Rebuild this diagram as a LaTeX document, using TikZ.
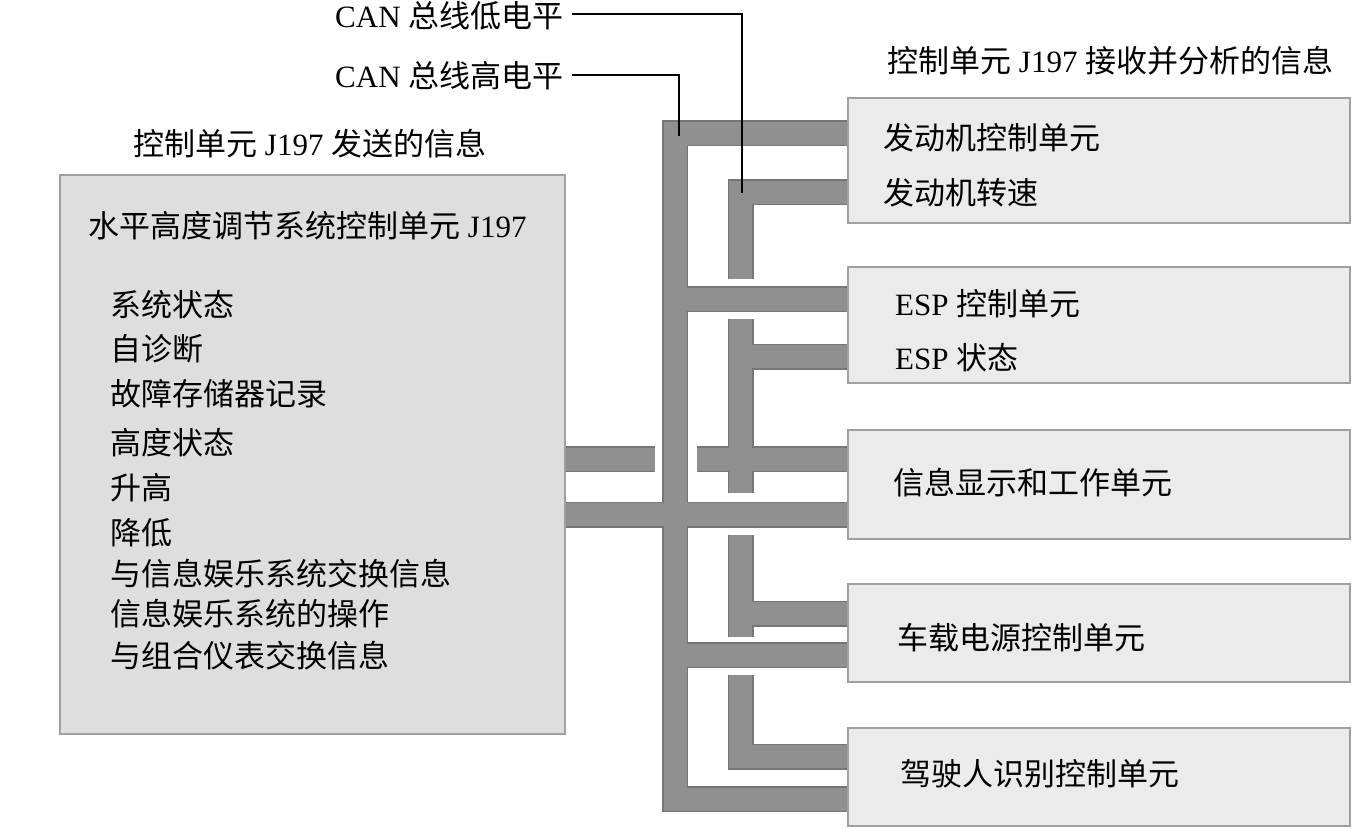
\documentclass[tikz,border=0pt]{standalone}
\usepackage{fontspec}
\setmainfont{Liberation Serif}
\newfontfamily\cjk{Noto Sans CJK SC}
\newcommand\C[1]{{\cjk #1}}
\definecolor{busgray}{HTML}{909090}
\definecolor{busedgegray}{HTML}{767676}
\definecolor{boxline}{HTML}{A0A0A0}
\definecolor{leftfill}{HTML}{DEDEDE}
\definecolor{rightfill}{HTML}{EBEBEB}
\tikzset{
  txt/.style={anchor=base west, inner sep=0pt, font=\fontsize{31}{36}\selectfont},
  rbox/.style={draw=boxline, line width=2.5pt, fill=rightfill, anchor=north west, minimum width=502pt, outer sep=0pt, inner sep=0pt},
  lbox/.style={draw=boxline, line width=2.5pt, fill=leftfill, anchor=north west, outer sep=0pt, inner sep=0pt},
  busedge/.style={draw=busedgegray, line width=26pt, line join=miter, line cap=butt},
  busfill/.style={draw=busgray, line width=23pt, line join=miter, line cap=butt},
  lead/.style={draw=black, line width=2pt}
}
\newcommand\buspaths[1]{%
  \draw[#1] (eng.west |- 0,133) -| (675,799) -- (drv.west |- 0,799);
  \draw[#1] (675,299) -- (esp.west |- 0,299);
  \draw[#1] (j197.east |- 0,514.5) -- (info.west |- 0,514.5);
  \draw[#1] (675,655) -- (car.west |- 0,655);
  \draw[#1] (eng.west |- 0,192) -| (740.5,279);
  \draw[#1] (740.5,319) -- (740.5,493);
  \draw[#1] (740.5,356.5) -- (esp.west |- 0,356.5);
  \draw[#1] (697,459) -- (info.west |- 0,459);
  \draw[#1] (j197.east |- 0,459) -- (655,459);
  \draw[#1] (740.5,535) -- (740.5,637);
  \draw[#1] (740.5,613.5) -- (car.west |- 0,613.5);
  \draw[#1] (740.5,675) |- (drv.west |- 0,756.5);
}
\begin{document}
\begin{tikzpicture}[x=1pt, y=-1pt]
\useasboundingbox (0,0) rectangle (1352,828);
% boxes (shapes only, drawn first to define anchors; redrawn after bus)
\path (60,175) node[lbox, minimum width=505pt, minimum height=559pt] (j197) {};
\path (848,98) node[rbox, minimum height=125pt] (eng) {};
\path (848,267) node[rbox, minimum height=116pt] (esp) {};
\path (848,430) node[rbox, minimum height=109pt] (info) {};
\path (848,584) node[rbox, minimum height=98pt] (car) {};
\path (848,728) node[rbox, minimum height=98pt] (drv) {};
% bus
\buspaths{busedge}
\buspaths{busfill}
% redraw box borders on top of bus ends
\foreach \b in {j197,eng,esp,info,car,drv}
  \draw[boxline, line width=2.5pt] (\b.north west) rectangle (\b.south east);
% labels of the bus lines
\node[txt] (canlo) at (335,27) {CAN \C{总线低电平}};
\node[txt] (canhi) at (335,87) {CAN \C{总线高电平}};
\draw[lead] (572,14) -| (742,193);
\draw[lead] (572,75) -| (679,136);
% titles
\node[txt] (rtitle) at (887,72) {\C{控制单元} J197 \C{接收并分析的信息}};
\node[txt] (ltitle) at (133,155) {\C{控制单元} J197 \C{发送的信息}};
% left box text
\node[txt] (l0) at (88,237) {\C{水平高度调节系统控制单元} J197};
\node[txt] (l1) at (110,316) {\C{系统状态}};
\node[txt] (l2) at (110,360) {\C{自诊断}};
\node[txt] (l3) at (110,405) {\C{故障存储器记录}};
\node[txt] (l4) at (110,454) {\C{高度状态}};
\node[txt] (l5) at (110,499) {\C{升高}};
\node[txt] (l6) at (110,544) {\C{降低}};
\node[txt] (l7) at (110,585) {\C{与信息娱乐系统交换信息}};
\node[txt] (l8) at (110,625) {\C{信息娱乐系统的操作}};
\node[txt] (l9) at (110,667) {\C{与组合仪表交换信息}};
% right box text
\node[txt] (r1) at (883,149) {\C{发动机控制单元}};
\node[txt] (r2) at (883,204) {\C{发动机转速}};
\node[txt] (r3) at (895,315) {ESP \C{控制单元}};
\node[txt] (r4) at (895,369) {ESP \C{状态}};
\node[txt] (r5) at (893,494) {\C{信息显示和工作单元}};
\node[txt] (r6) at (897,649) {\C{车载电源控制单元}};
\node[txt] (r7) at (900,785) {\C{驾驶人识别控制单元}};
\end{tikzpicture}
\end{document}
